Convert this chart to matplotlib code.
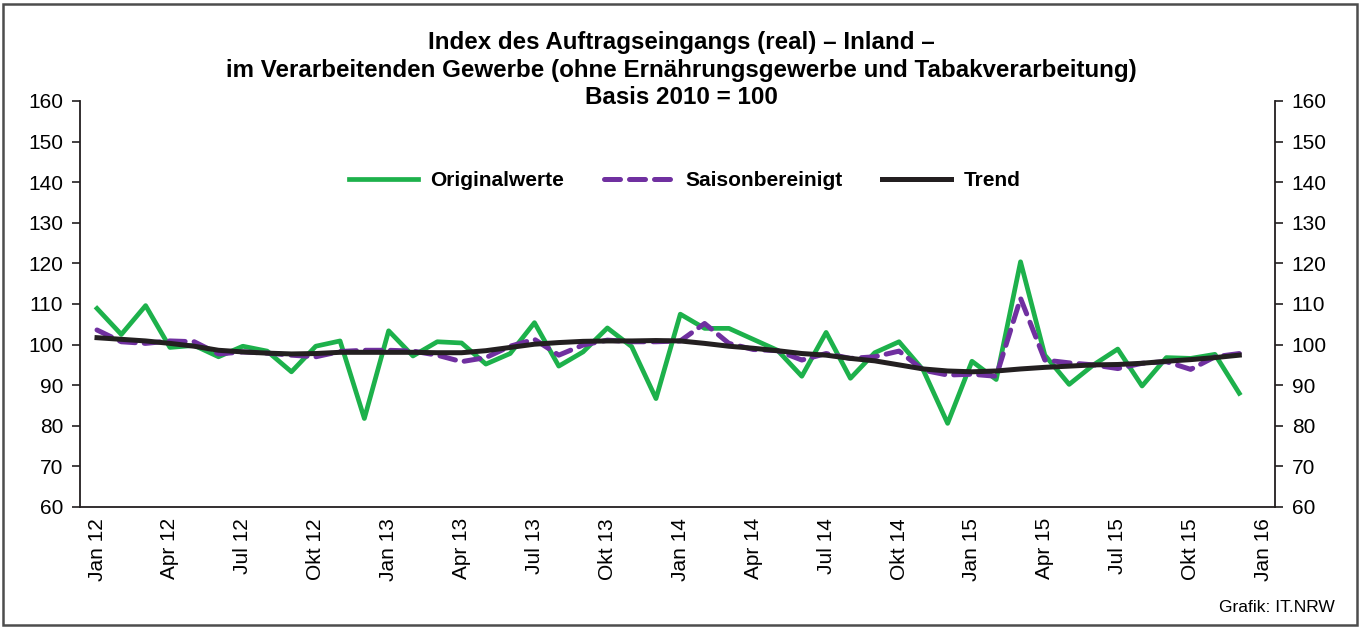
import matplotlib
matplotlib.use("Agg")
import matplotlib.pyplot as plt
from matplotlib.patches import Rectangle

plt.rcParams['font.family'] = ['Liberation Sans', 'DejaVu Sans']

# Monthly values Jan 2012 - Dec 2015
original = [108.9, 102.5, 109.6, 99.3, 99.8, 97.0, 99.6, 98.4, 93.3, 99.6, 100.9, 81.8,
            103.4, 97.2, 100.7, 100.4, 95.2, 97.8, 105.4, 94.7, 98.2, 104.1, 99.5, 86.7,
            107.5, 104.0, 104.0, 101.3, 98.6, 92.2, 103.0, 91.7, 98.0, 100.7, 93.7, 80.6,
            95.9, 91.4, 120.4, 97.4, 90.2, 95.0, 98.9, 89.8, 96.8, 96.6, 97.6, 88.0]
saisonbereinigt = [103.6, 100.7, 100.3, 100.9, 100.7, 97.7, 98.2, 97.9, 97.4, 97.0, 98.3, 98.6,
                   98.6, 98.4, 97.4, 95.8, 96.8, 99.6, 101.3, 97.4, 99.9, 101.1, 100.7, 100.7,
                   100.9, 105.2, 100.3, 98.8, 98.5, 96.2, 97.8, 96.6, 97.0, 98.4, 93.7, 92.5,
                   92.7, 92.2, 111.4, 96.2, 95.5, 95.0, 94.1, 95.4, 95.8, 93.9, 97.0, 97.8]
trend = [101.7, 101.3, 100.9, 100.3, 99.6, 98.6, 98.2, 97.9, 97.7, 97.8, 98.1, 98.1,
         98.1, 98.1, 98.0, 98.0, 98.5, 99.3, 100.1, 100.5, 100.8, 100.9, 100.9, 101.0,
         100.9, 100.3, 99.6, 99.1, 98.5, 97.8, 97.4, 96.6, 96.0, 95.0, 94.0, 93.5,
         93.3, 93.5, 94.0, 94.4, 94.7, 95.0, 95.1, 95.4, 95.9, 96.3, 96.8, 97.4]

month_names = ["Jan", "Apr", "Jul", "Okt"]
years = [12, 13, 14, 15]
tick_labels = [f"{m} {y}" for y in years for m in month_names] + ["Jan 16"]
tick_pos = list(range(0, 49, 3))

x = list(range(len(original)))

fig = plt.figure(figsize=(13.62, 6.29), dpi=100)
ax = fig.add_axes([80 / 1362, 1 - 507 / 629, 1195 / 1362, 406 / 629])

ax.plot(x, original, color="#1db14b", lw=3.4, label="Originalwerte", zorder=2)
ax.plot(x, saisonbereinigt, color="#7030a0", lw=3.6, ls=(0, (3.2, 1.8)),
        dash_capstyle="round", label="Saisonbereinigt", zorder=3)
ax.plot(x, trend, color="#231f20", lw=3.6, label="Trend", zorder=4)

ax.set_xlim(-0.7, 48.47)
ax.set_ylim(60, 160)
ax.set_yticks(range(60, 161, 10))
ax.set_xticks(tick_pos)
ax.set_xticklabels(tick_labels, rotation=90, fontsize=15)

ax.tick_params(axis="y", direction="out", length=6, width=1.2, color="#231f20",
               left=True, right=True, labelleft=True, labelright=True,
               labelsize=15, pad=6)
ax.tick_params(axis="x", length=0, pad=8)

ax.spines["top"].set_visible(False)
for s in ["left", "right", "bottom"]:
    ax.spines[s].set_color("#231f20")
    ax.spines[s].set_linewidth(1.3)

ax.legend(loc="center", bbox_to_anchor=(0.506, 0.803), ncol=3, frameon=False,
          prop={"weight": "bold", "size": 15}, handlelength=3.3,
          handletextpad=0.6, columnspacing=1.9)

# Title: three lines centred at y = 42, 70, 97 px
title_lines = ["Index des Auftragseingangs (real) \u2013 Inland \u2013",
               "im Verarbeitenden Gewerbe (ohne Ern\u00e4hrungsgewerbe und Tabakverarbeitung)",
               "Basis 2010 = 100"]
for line, ypx in zip(title_lines, [42, 70, 97]):
    fig.text(0.5, 1 - ypx / 629, line, ha="center", va="center",
             fontsize=17.4, fontweight="bold")

fig.text(1335 / 1362, 1 - 608 / 629, "Grafik: IT.NRW", ha="right", va="center", fontsize=12.5)

fig.patches.append(Rectangle((3 / 1362, 4 / 629), 1354 / 1362, 621 / 629,
                             transform=fig.transFigure, fill=False,
                             edgecolor="#4d4d4d", lw=1.8))

fig.savefig("out.png", dpi=100)
